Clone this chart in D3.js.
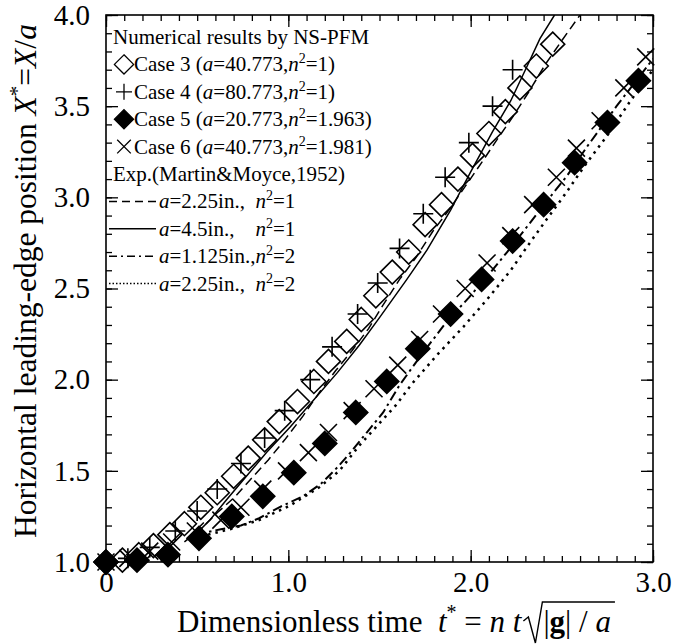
<!DOCTYPE html>
<html>
<head>
<meta charset="utf-8">
<script src="https://cdn.jsdelivr.net/npm/d3@7"></script>
<style>
  body { margin: 0; background: #fff; }
</style>
</head>
<body>
<div id="chart"></div>
<script>
// Numerical results (t*, X*)
const case3 = [[0,1.00],[0.09,1.01],[0.18,1.04],[0.26,1.09],[0.35,1.15],[0.43,1.21],[0.52,1.30],[0.61,1.38],[0.70,1.47],[0.78,1.57],[0.87,1.67],[0.95,1.77],[1.05,1.88],[1.14,1.99],[1.22,2.10],[1.32,2.21],[1.40,2.33],[1.48,2.46],[1.57,2.59],[1.66,2.70],[1.75,2.85],[1.84,2.96],[1.93,3.10],[2.01,3.23],[2.10,3.35],[2.19,3.47],[2.27,3.60],[2.36,3.72],[2.45,3.84]];
const case4 = [[0,1.00],[0.12,1.02],[0.24,1.08],[0.38,1.17],[0.50,1.28],[0.61,1.40],[0.74,1.54],[0.87,1.68],[0.98,1.83],[1.12,2.00],[1.24,2.18],[1.38,2.36],[1.49,2.53],[1.61,2.72],[1.74,2.91],[1.86,3.11],[1.99,3.30],[2.12,3.50],[2.23,3.70]];
const case5 = [[0,1.00],[0.17,1.01],[0.34,1.04],[0.51,1.13],[0.69,1.25],[0.86,1.36],[1.03,1.49],[1.20,1.65],[1.37,1.82],[1.54,1.99],[1.71,2.17],[1.89,2.36],[2.06,2.55],[2.23,2.76],[2.40,2.96],[2.57,3.19],[2.75,3.41],[2.92,3.64]];
const case6 = [[0,1.00],[0.12,1.02],[0.24,1.06],[0.36,1.11],[0.49,1.17],[0.63,1.23],[0.74,1.30],[0.86,1.40],[0.99,1.50],[1.11,1.60],[1.22,1.71],[1.35,1.83],[1.47,1.95],[1.60,2.08],[1.72,2.22],[1.84,2.36],[1.97,2.50],[2.09,2.64],[2.22,2.79],[2.34,2.96],[2.47,3.11],[2.58,3.27],[2.71,3.42],[2.84,3.60],[2.96,3.77]];

// Experiments (Martin & Moyce, 1952)
const expA225n1 = [[0.43,1.11],[0.52,1.18],[0.61,1.27],[0.71,1.36],[0.79,1.45],[0.89,1.56],[0.98,1.67],[1.08,1.80],[1.17,1.93],[1.26,2.05],[1.35,2.16],[1.44,2.28],[1.52,2.41],[1.61,2.55],[1.70,2.67],[1.79,2.81],[1.88,2.93],[1.97,3.06],[2.06,3.19],[2.14,3.31],[2.23,3.44],[2.32,3.58],[2.41,3.73],[2.50,3.86],[2.60,4.00]];
const expA45n1 = [[0.46,1.12],[0.57,1.23],[0.66,1.34],[0.77,1.47],[0.88,1.60],[1.01,1.74],[1.14,1.89],[1.27,2.04],[1.39,2.19],[1.50,2.34],[1.65,2.55],[1.76,2.71],[1.89,2.93],[2.00,3.14],[2.12,3.36],[2.22,3.53],[2.31,3.72],[2.38,3.87],[2.46,4.00]];
const expA1125n2 = [[0.49,1.15],[0.63,1.18],[0.74,1.20],[0.84,1.24],[0.95,1.30],[1.08,1.36],[1.18,1.43],[1.27,1.52],[1.34,1.60],[1.43,1.71],[1.52,1.82],[1.61,1.97],[1.74,2.15],[1.87,2.32],[1.99,2.45],[2.11,2.59],[2.20,2.70],[2.31,2.84],[2.41,2.97],[2.53,3.12],[2.64,3.28],[2.80,3.50],[2.97,3.72],[3.00,3.76]];
const expA225n2 = [[0.52,1.14],[0.68,1.18],[0.84,1.23],[1.01,1.31],[1.17,1.41],[1.28,1.50],[1.39,1.64],[1.49,1.75],[1.59,1.86],[1.68,1.98],[1.82,2.14],[1.96,2.29],[2.09,2.44],[2.22,2.60],[2.31,2.73],[2.41,2.87],[2.52,3.02],[2.63,3.18],[2.75,3.34],[2.87,3.52],[3.00,3.70]];

const xMajor = [0, 1, 2, 3];
const xLabels = ['0', '1.0', '2.0', '3.0'];
const yMajor = [1, 1.5, 2, 2.5, 3, 3.5, 4];
const yLabels = ['1.0', '1.5', '2.0', '2.5', '3.0', '3.5', '4.0'];

const FONT = '"Liberation Serif", "DejaVu Serif", "Times New Roman", serif';
const W = 689, H = 644;
const svg = d3.select('#chart').append('svg')
  .attr('width', W).attr('height', H)
  .style('font-family', FONT);

const x = d3.scaleLinear().domain([0, 3]).range([106, 653]);
const y = d3.scaleLinear().domain([1, 4]).range([562, 15]);

// clip for lines
svg.append('clipPath').attr('id', 'plotclip')
  .append('rect').attr('x', 106).attr('y', 15).attr('width', 547).attr('height', 547);

// Eixos
const minorX = d3.range(0, 3.001, 0.1);
const minorY = d3.range(1, 4.001, 0.1);

function styleAxis(g) {
  g.attr('font-family', FONT);
  g.select('.domain').remove();
  g.selectAll('.tick line').attr('stroke', '#000').attr('stroke-width', 1.3);
  g.selectAll('.tick text')
    .style('font-family', FONT)
    .style('font-size', '29px').attr('fill', '#000');
}

svg.append('g').attr('transform', 'translate(0,562)')
  .call(d3.axisBottom(x).tickValues(minorX).tickSize(-6).tickFormat(''))
  .call(styleAxis);
svg.append('g').attr('transform', 'translate(0,562)')
  .call(d3.axisBottom(x).tickValues(xMajor).tickSize(-12).tickPadding(9)
    .tickFormat((d, i) => xLabels[i]))
  .call(styleAxis);
svg.append('g').attr('transform', 'translate(0,15)')
  .call(d3.axisTop(x).tickValues(minorX).tickSize(-6).tickFormat(''))
  .call(styleAxis);
svg.append('g').attr('transform', 'translate(0,15)')
  .call(d3.axisTop(x).tickValues(xMajor).tickSize(-12).tickFormat(''))
  .call(styleAxis);

svg.append('g').attr('transform', 'translate(106,0)')
  .call(d3.axisLeft(y).tickValues(minorY).tickSize(-6).tickFormat(''))
  .call(styleAxis);
svg.append('g').attr('transform', 'translate(106,0)')
  .call(d3.axisLeft(y).tickValues(yMajor).tickSize(-12).tickPadding(16)
    .tickFormat((d, i) => yLabels[i]))
  .call(styleAxis);
svg.append('g').attr('transform', 'translate(653,0)')
  .call(d3.axisRight(y).tickValues(minorY).tickSize(-6).tickFormat(''))
  .call(styleAxis);
svg.append('g').attr('transform', 'translate(653,0)')
  .call(d3.axisRight(y).tickValues(yMajor).tickSize(-12).tickFormat(''))
  .call(styleAxis);

svg.append('rect')
  .attr('x', 106).attr('y', 15).attr('width', 547).attr('height', 547)
  .attr('fill', 'none').attr('stroke', '#000').attr('stroke-width', 1.6);

// Linhas experimentais
const line = d3.line().x(d => x(d[0])).y(d => y(d[1]));
const lineStyles = [
  { data: expA225n1, dash: '9,5', w: 1.5 },
  { data: expA45n1, dash: null, w: 1.5 },
  { data: expA1125n2, dash: '10,4,2.5,4', w: 2 },
  { data: expA225n2, dash: '2.5,5', w: 2.5 }
];
const linesG = svg.append('g').attr('clip-path', 'url(#plotclip)');
lineStyles.forEach(s => {
  linesG.append('path')
    .attr('d', line(s.data))
    .attr('fill', 'none')
    .attr('stroke', '#000')
    .attr('stroke-width', s.w)
    .attr('stroke-dasharray', s.dash);
});

// Marcadores
const R = 12;
const diamondPath = `M0,${-R}L${R},0L0,${R}L${-R},0Z`;
const plusPath = 'M-10,0H10M0,-10V10';
const crossPath = 'M-8.5,-8.5L8.5,8.5M-8.5,8.5L8.5,-8.5';

function drawMarkers(data, d, fill) {
  svg.append('g').selectAll('path')
    .data(data).enter().append('path')
    .attr('transform', p => `translate(${x(p[0])},${y(p[1])})`)
    .attr('d', d)
    .attr('fill', fill)
    .attr('stroke', '#000')
    .attr('stroke-width', 1.6);
}
drawMarkers(case3, diamondPath, 'none');
drawMarkers(case5, diamondPath, '#000');
drawMarkers(case4, plusPath, 'none');
drawMarkers(case6, crossPath, 'none');

// Legenda
const legend = svg.append('g');
const rowY = i => 44 + i * 27.4;
const fs = 21;

function addRow(i, tx, parts) {
  const t = legend.append('text').attr('x', tx).attr('y', rowY(i))
    .style('font-family', FONT).style('font-size', fs + 'px');
  parts.forEach(p => {
    const ts = t.append('tspan').text(p.t);
    if (p.i) ts.style('font-style', 'italic');
    if (p.sup) ts.style('font-size', '14px').attr('dy', -8);
    if (p.after) ts.attr('dy', 8);
  });
  return t;
}

addRow(0, 113, [{ t: 'Numerical results by NS-PFM' }]);

const caseRows = [
  { lab: 'Case 3 (', a: '40.773', n: '1', m: diamondPath, fill: 'none' },
  { lab: 'Case 4 (', a: '80.773', n: '1', m: plusPath, fill: 'none' },
  { lab: 'Case 5 (', a: '20.773', n: '1.963', m: diamondPath, fill: '#000' },
  { lab: 'Case 6 (', a: '40.773', n: '1.981', m: crossPath, fill: 'none' }
];
caseRows.forEach((c, k) => {
  const i = k + 1;
  legend.append('path')
    .attr('transform', `translate(124,${rowY(i) - 7}) scale(0.8)`)
    .attr('d', c.m).attr('fill', c.fill)
    .attr('stroke', '#000').attr('stroke-width', 1.6);
  addRow(i, 134, [
    { t: c.lab }, { t: 'a', i: true }, { t: '=' + c.a + ',' }, { t: 'n', i: true },
    { t: '2', sup: true }, { t: '=' + c.n + ')', after: true }
  ]);
});

addRow(5, 113, [{ t: 'Exp.(Martin&Moyce,1952)' }]);

const expRows = [
  { a: '2.25in.,\u00a0\u00a0', n: '1' },
  { a: '4.5in.,\u00a0\u00a0\u00a0\u00a0', n: '1' },
  { a: '1.125in.,', n: '2' },
  { a: '2.25in.,\u00a0\u00a0', n: '2' }
];
const legDash = ['8,5', null, '8,4,2,4', '1.5,2'];
expRows.forEach((e, k) => {
  const i = k + 6;
  legend.append('line')
    .attr('x1', 109).attr('x2', 156)
    .attr('y1', rowY(i) - 7).attr('y2', rowY(i) - 7)
    .attr('stroke', '#000')
    .attr('stroke-width', 1.5)
    .attr('stroke-dasharray', legDash[k]);
  addRow(i, 159, [
    { t: 'a', i: true }, { t: '=' + e.a }, { t: 'n', i: true },
    { t: '2', sup: true }, { t: '=' + e.n, after: true }
  ]);
});

// Título do eixo Y
const yl = svg.append('text')
  .attr('transform', 'translate(36,281) rotate(-90)')
  .attr('text-anchor', 'middle')
  .style('font-family', FONT)
  .style('font-size', '31.5px');
yl.append('tspan').text('Horizontal leading-edge position ');
yl.append('tspan').text('X').style('font-style', 'italic');
yl.append('tspan').text('*').attr('dy', -12).style('font-size', '21px');
yl.append('tspan').text('=').attr('dy', 12);
yl.append('tspan').text('X').style('font-style', 'italic');
yl.append('tspan').text('/');
yl.append('tspan').text('a').style('font-style', 'italic');

// Título do eixo X
const xl = svg.append('text').attr('x', 177).attr('y', 632)
  .style('font-family', FONT).style('font-size', '31px');
xl.append('tspan').text('Dimensionless time\u00a0\u00a0');
xl.append('tspan').text('t').style('font-style', 'italic');
xl.append('tspan').text('*').attr('dy', -13).style('font-size', '20px');
xl.append('tspan').text('\u00a0=\u00a0').attr('dy', 13);
xl.append('tspan').text('n').style('font-style', 'italic');
xl.append('tspan').text('\u00a0');
xl.append('tspan').text('t').style('font-style', 'italic');
const xEnd = 177 + xl.node().getComputedTextLength();

const xl2 = svg.append('text').attr('x', xEnd + 22).attr('y', 632)
  .style('font-family', FONT).style('font-size', '31px');
xl2.append('tspan').text('|');
xl2.append('tspan').text('g').style('font-weight', 'bold');
xl2.append('tspan').text('|\u00a0/\u00a0');
xl2.append('tspan').text('a').style('font-style', 'italic');
const x2End = xEnd + 22 + xl2.node().getComputedTextLength();

svg.append('path')
  .attr('d', `M${xEnd + 2},621 L${xEnd + 7},617 L${xEnd + 14},643 L${xEnd + 21},602 H${x2End + 4}`)
  .attr('fill', 'none').attr('stroke', '#000').attr('stroke-width', 1.4);
</script>
</body>
</html>
